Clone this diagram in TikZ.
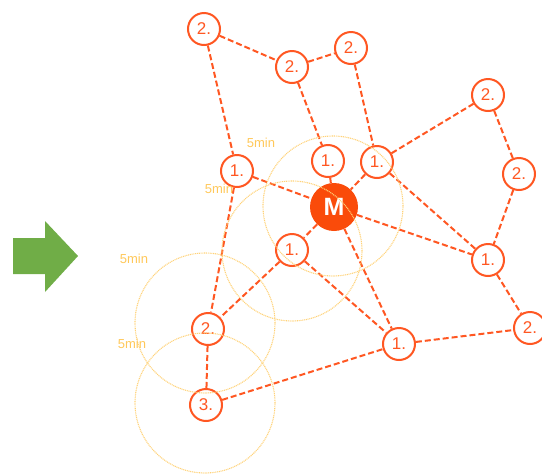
\documentclass[tikz,border=0pt]{standalone}
\usepackage{fontspec}
\setmainfont{Liberation Sans}
\definecolor{org}{RGB}{255,87,34}
\definecolor{mred}{RGB}{250,75,10}
\definecolor{gold}{RGB}{255,200,90}
\definecolor{ringc}{RGB}{255,210,120}
\definecolor{grn}{RGB}{112,173,71}
\begin{document}
\begin{tikzpicture}[x=1pt,y=-1pt,
  stop/.style={circle,draw=org,line width=2pt,fill=white,minimum size=32pt,inner sep=0pt,text=org,font=\fontsize{17}{17}\selectfont},
  hub/.style={circle,fill=mred,minimum size=48pt,inner sep=0pt,text=white,font=\bfseries\fontsize{25}{25}\selectfont},
  link/.style={draw=org,line width=2pt,dash pattern=on 6pt off 3pt},
  ringline/.style={draw=ringc,line width=1.1pt,dash pattern=on 1pt off 0.8pt},
  lbl/.style={text=gold,font=\fontsize{13}{13}\selectfont,inner sep=0pt}]
\useasboundingbox (0,0) rectangle (542,475);
% green arrow
\fill[grn] (13,238) -- (45,238) -- (45,221) -- (78,256) -- (45,292) -- (45,274) -- (13,274) -- cycle;
% nodes
\node[stop] (A) at (204,29) {2.};
\node[stop] (B) at (292,67) {2.};
\node[stop] (C) at (351,48) {2.};
\node[stop] (D) at (488,95) {2.};
\node[stop] (E) at (519,174) {2.};
\node[stop] (F) at (328,161) {1.};
\node[stop] (G) at (377,162) {1.};
\node[stop] (H) at (237,171) {1.};
\node[hub]  (M) at (334,207) {M};
\node[stop] (I) at (292,250) {1.};
\node[stop] (J) at (488,260) {1.};
\node[stop] (K) at (530,328) {2.};
\node[stop] (L) at (399,344) {1.};
\node[stop] (N) at (208,329) {2.};
\node[stop] (O) at (206,405) {3.};
% links
\path[link] (A) -- (B);
\path[link] (A) -- (H);
\path[link] (B) -- (C);
\path[link] (B) -- (F);
\path[link] (C) -- (G);
\path[link] (G) -- (D);
\path[link] (D) -- (E);
\path[link] (E) -- (J);
\path[link] (H) -- (M);
\path[link] (H) -- (N);
\path[link] (F) -- (M);
\path[link] (G) -- (M);
\path[link] (G) -- (J);
\path[link] (M) -- (J);
\path[link] (M) -- (I);
\path[link] (M) -- (L);
\path[link] (I) -- (N);
\path[link] (I) -- (L);
\path[link] (J) -- (K);
\path[link] (L) -- (K);
\path[link] (N) -- (O);
\path[link] (O) -- (L);
% reach rings
\path[ringline] (333,206) circle[radius=70pt];
\path[ringline] (292,251) circle[radius=70pt];
\path[ringline] (205,323) circle[radius=70pt];
\path[ringline] (205,403) circle[radius=70pt];
% labels
\node[lbl] (t1) at (261,143) {5min};
\node[lbl] (t2) at (219,189) {5min};
\node[lbl] (t3) at (134,259) {5min};
\node[lbl] (t4) at (132,344) {5min};
\end{tikzpicture}
\end{document}
